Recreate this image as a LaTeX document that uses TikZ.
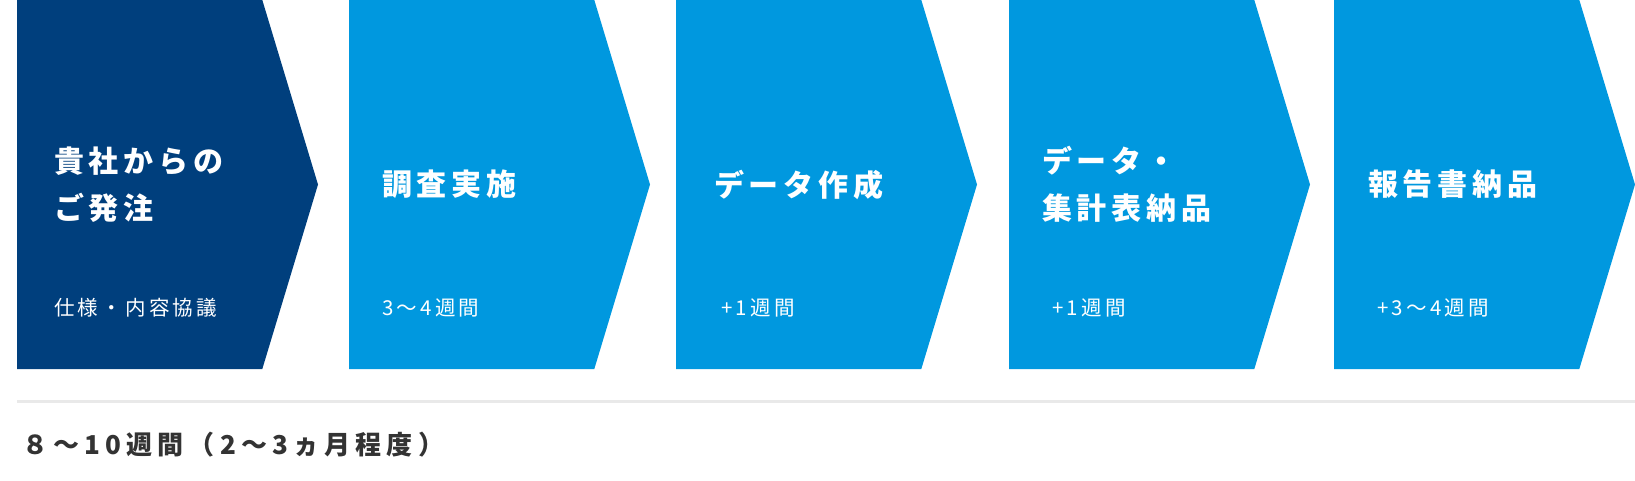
\documentclass[tikz,border=0pt]{standalone}
\usepackage{fontspec}
\setmainfont{Noto Sans CJK JP}
\newfontfamily\titlefont[LetterSpace=16]{Noto Sans CJK JP}
\newfontfamily\periodfont[LetterSpace=16]{Noto Sans CJK JP}
\newfontfamily\totalfont[LetterSpace=20]{Noto Sans CJK JP}
\usepackage{tikz}
\usetikzlibrary{positioning}
\usetikzlibrary{shapes.symbols}
\definecolor{navy}{HTML}{003F7D}
\definecolor{sky}{HTML}{0098DF}
\definecolor{rulegray}{HTML}{E9E9E9}
\definecolor{ink}{HTML}{333333}
\tikzstyle{every node}+=[inner sep=0pt, outer sep=0pt]
\tikzstyle{stage} = [shape=signal, signal to=east, signal from=nowhere, signal pointer angle=146.4, minimum width=301pt, minimum height=369pt, fill=sky, anchor=west]
\tikzstyle{title} = [text=white, font=\titlefont\bfseries\fontsize{30}{47}\selectfont, align=left]
\tikzstyle{period} = [anchor=west, text=white, font=\periodfont\fontsize{20.5}{20.5}\selectfont]
\tikzstyle{total} = [anchor=west, text=ink, font=\totalfont\bfseries\fontsize{26}{26}\selectfont]

\begin{document}
\begin{tikzpicture}[x=1pt, y=-1pt]
            \useasboundingbox (0,0) rectangle (1635,480);
            % Place stages
            \node [stage, fill=navy] (order) at (17,184.5) {};
            \node [stage] (survey) at (349,184.5) {};
            \node [stage] (data) at (676,184.5) {};
            \node [stage] (tables) at (1009,184.5) {};
            \node [stage] (report) at (1334,184.5) {};
            % Stage titles
            \node [title, right=37pt of order.west] (t0) {貴社からの\\ご発注};
            \node [title, right=33pt of survey.west] (t1) {調査実施};
            \node [title, right=38pt of data.west] (t2) {データ作成};
            \node [title, right=33pt of tables.west] (t3) {データ・\\集計表納品};
            \node [title, right=34pt of report.west] (t4) {報告書納品};
            % Durations
            \node [period] (p0) at (54,308) {仕様・内容協議};
            \node [period] (p1) at (382,308) {3～4週間};
            \node [period] (p2) at (721,308) {+1週間};
            \node [period] (p3) at (1052,308) {+1週間};
            \node [period] (p4) at (1377,308) {+3～4週間};
            % Total
            \coordinate (ruleL) at (17,401);
            \coordinate (ruleR) at (1635,401);
            \draw [rulegray, line width=3pt] (ruleL) -- (ruleR);
            \node [total] (span) at (22,445) {８～10週間（2～3ヵ月程度）};
\end{tikzpicture}
\end{document}
